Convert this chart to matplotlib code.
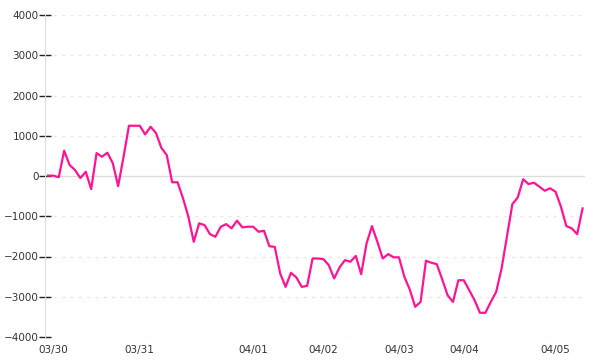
import matplotlib.pyplot as plt

# values, one per sample (100 samples)
values = [
    10, 10, -30, 630, 275, 150, -50, 105, -325, 570,
    480, 580, 320, -250, 480, 1250, 1250, 1250, 1035, 1225,
    1070, 700, 520, -155, -155, -550, -1010, -1635, -1175, -1220,
    -1445, -1510, -1260, -1195, -1300, -1110, -1275, -1260, -1260, -1385,
    -1360, -1745, -1760, -2420, -2755, -2405, -2520, -2755, -2730, -2050,
    -2050, -2065, -2215, -2545, -2270, -2090, -2130, -1985, -2440, -1675,
    -1245, -1635, -2050, -1940, -2020, -2020, -2505, -2820, -3250, -3130,
    -2105, -2155, -2190, -2565, -2960, -3130, -2590, -2590, -2835, -3085,
    -3400, -3400, -3130, -2880, -2300, -1500, -700, -530, -80, -200,
    -165, -265, -365, -305, -390, -765, -1245, -1300, -1445, -805,
]
day_labels = ['03/30', '03/31', '04/01', '04/02', '04/03', '04/04', '04/05']
day_index = [1, 17, 38, 51, 65, 77, 94]
y_ticks = [-4000, -3000, -2000, -1000, 0, 1000, 2000, 3000, 4000]

fig = plt.figure(figsize=(6, 3.6), dpi=100)
ax = fig.add_axes([0.075, 0.064, 0.9, 0.894])

x = list(range(len(values)))

for v in y_ticks:
    if v == 0:
        ax.axhline(0, color='#dddddd', lw=1, zorder=1)
    else:
        ax.axhline(v, color='#e6e6e6', lw=1, ls=(0, (2, 4)), zorder=1)

ax.plot(x, values, color='#ff1493', lw=1.6, zorder=3)

ax.set_xlim(-0.55, 99.45)
ax.set_ylim(-4000, 4000)
ax.set_yticks(y_ticks)
ax.set_yticklabels([str(v).replace('-', '\u2212') for v in y_ticks])
ax.set_xticks(day_index)
ax.set_xticklabels(day_labels)

for s in ['top', 'right', 'bottom']:
    ax.spines[s].set_visible(False)
ax.spines['left'].set_color('#dddddd')
ax.tick_params(axis='y', direction='inout', length=9, width=1, color='#222222',
               labelsize=7.5, labelcolor='#333333', pad=0)
ax.tick_params(axis='x', length=0, labelsize=7.5, labelcolor='#333333', pad=6)

plt.savefig('out.png', dpi=100)
